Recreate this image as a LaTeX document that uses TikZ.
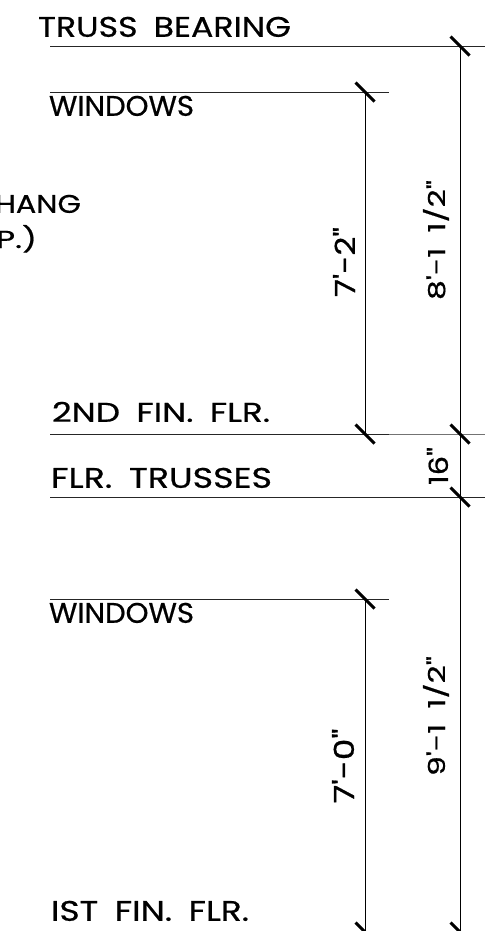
\documentclass[tikz,border=0pt]{standalone}
\usepackage{fontspec}
\usepackage{graphicx}
\newfontfamily\letterfont[FakeBold=0.6,WordSpace=1.8]{Poppins}
\newcommand{\lettered}[3]{\resizebox{#1pt}{#2pt}{\letterfont #3}}

\begin{document}
\begin{tikzpicture}[x=1pt, y=-1pt,
        every node/.style={inner sep=0pt, outer sep=0pt},
        level/.style={line width=0.9pt, black!85},
        dim/.style={line width=0.9pt, black},
        slash/.style={line width=3pt, black}]
        \useasboundingbox (0,0) rectangle (485,931);
        \clip (0,0) rectangle (485,931);

        \coordinate (TL) at (50,46);
        \coordinate (TR) at (485,46);
        \coordinate (UL) at (50,92);
        \coordinate (UR) at (389,92);
        \coordinate (SL) at (50,434);
        \coordinate (SM) at (389,434);
        \coordinate (SR) at (485,434);
        \coordinate (FL) at (50,497);
        \coordinate (FR) at (485,497);
        \coordinate (LL) at (50,599);
        \coordinate (LR) at (389,599);

        \coordinate (A) at (365,92);
        \coordinate (B) at (365,434);
        \coordinate (C) at (365,599);
        \coordinate (D) at (365,932);
        \coordinate (E) at (460,46);
        \coordinate (F) at (460,434);
        \coordinate (G) at (460,497);
        \coordinate (H) at (460,932);

        \node[anchor=south west] (truss) at (38,37) {\lettered{253}{20}{TRUSS BEARING}};
        \node[anchor=south west] (upwin) at (49,116) {\lettered{145}{20}{WINDOWS}};
        \node[anchor=south east] (hang) at (81,213) {\lettered{86}{18}{HANG}};
        \node[anchor=north east] (typ) at (37,225) {\lettered{41}{23}{P.)}};
        \node[anchor=south west] (second) at (52,422) {\lettered{218}{20}{2ND FIN. FLR.}};
        \node[anchor=south west] (trusses) at (51,488) {\lettered{221}{20}{FLR. TRUSSES}};
        \node[anchor=south west] (lowwin) at (49,623) {\lettered{145}{20}{WINDOWS}};
        \node[anchor=south west] (first) at (51,921) {\lettered{198}{20}{IST FIN. FLR.}};

        \node[rotate=90] (upheight) at (344,262) {\lettered{70}{22}{7'-2"}};
        \node[rotate=90] (upper) at (436,240) {\lettered{120}{22}{8'-1 1/2"}};
        \node[rotate=90] (depth) at (437.5,466) {\lettered{38}{21}{16"}};
        \node[rotate=90] (lowheight) at (343,766) {\lettered{75}{22}{7'-0"}};
        \node[rotate=90] (lower) at (436,716) {\lettered{120}{22}{9'-1 1/2"}};

        \draw[level] (TL) -- (TR);
        \draw[level] (UL) -- (UR);
        \draw[level] (SL) -- (SM);
        \draw[level, black!55] (SM) -- (SR);
        \draw[level] (FL) -- (FR);
        \draw[level] (LL) -- (LR);

        \draw[dim] (A) -- (B);
        \draw[dim] (C) -- (D);
        \draw[dim] (E) -- (H);

        \foreach \p in {A,B,C,D,E,F,G,H}
            \draw[slash, shift={(\p)}] (-9.5,-9.5) -- (9.5,9.5);
    \end{tikzpicture}
\end{document}
